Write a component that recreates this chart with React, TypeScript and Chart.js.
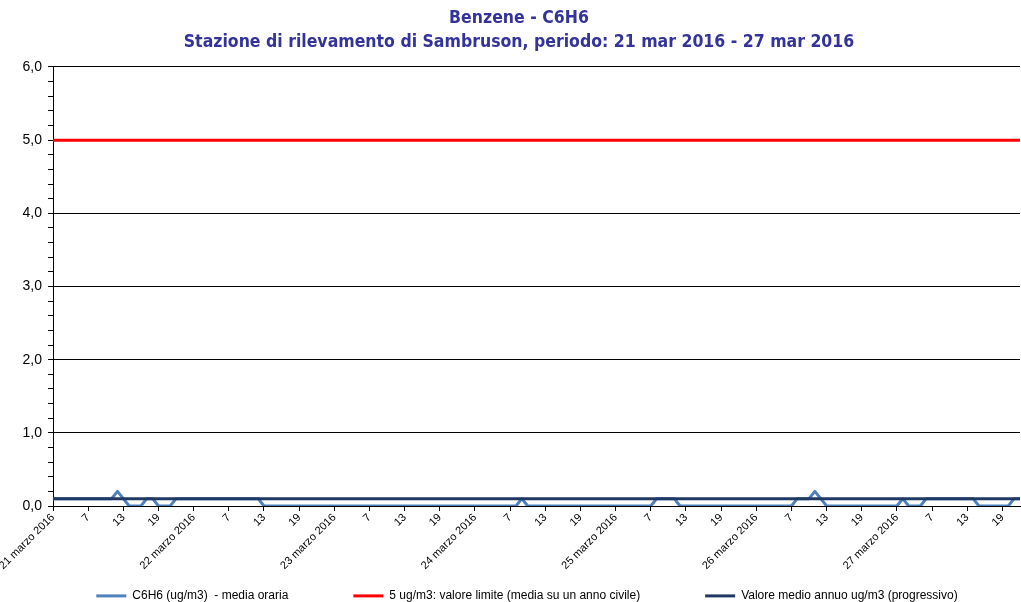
import React, { useEffect, useRef } from "react";
import { Chart, registerables } from "chart.js";

Chart.register(...registerables);

// Days and hours of the period
const days = [21, 22, 23, 24, 25, 26, 27];
const hoursPerDay = [24, 24, 24, 24, 24, 24, 22];
const labeledHours = [1, 7, 13, 19];

// C6H6 hourly means (ug/m3), one array per day
const day21 = [0.1, 0.1, 0.1, 0.1, 0.1, 0.1, 0.1, 0.1, 0.1, 0.1, 0.1, 0.2, 0.1, 0, 0, 0, 0.1, 0.1, 0, 0, 0, 0.1, 0.1, 0.1];
const day22 = [0.1, 0.1, 0.1, 0.1, 0.1, 0.1, 0.1, 0.1, 0.1, 0.1, 0.1, 0.1, 0, 0, 0, 0, 0, 0, 0, 0, 0, 0, 0, 0];
const day23 = [0, 0, 0, 0, 0, 0, 0, 0, 0, 0, 0, 0, 0, 0, 0, 0, 0, 0, 0, 0, 0, 0, 0, 0];
const day24 = [0, 0, 0, 0, 0, 0, 0, 0, 0.1, 0, 0, 0, 0, 0, 0, 0, 0, 0, 0, 0, 0, 0, 0, 0];
const day25 = [0, 0, 0, 0, 0, 0, 0, 0.1, 0.1, 0.1, 0.1, 0, 0, 0, 0, 0, 0, 0, 0, 0, 0, 0, 0, 0];
const day26 = [0, 0, 0, 0, 0, 0, 0, 0.1, 0.1, 0.1, 0.2, 0.1, 0, 0, 0, 0, 0, 0, 0, 0, 0, 0, 0, 0];
const day27 = [0, 0.1, 0, 0, 0, 0.1, 0.1, 0.1, 0.1, 0.1, 0.1, 0.1, 0.1, 0.1, 0, 0, 0, 0, 0, 0, 0.1, 0.1];

const limitValue = 5;
const annualMean = 0.1;

const seriesNames = [
  "C6H6 (ug/m3)  - media oraria",
  "5 ug/m3: valore limite (media su un anno civile)",
  "Valore medio annuo ug/m3 (progressivo)",
];
const seriesColors = ["#4F81BD", "#FF0000", "#1F3864"];

const titleLines = [
  "Benzene - C6H6",
  "Stazione di rilevamento di Sambruson, periodo: 21 mar 2016 - 27 mar 2016",
];

const LEGEND_PADDING = 65;

export default function App() {
  const ref = useRef<HTMLCanvasElement | null>(null);

  useEffect(() => {
    document.body.style.margin = "0";
    const labels: string[] = [];
    const shown: boolean[] = [];
    days.forEach((d, di) => {
      for (let h = 1; h <= hoursPerDay[di]; h++) {
        labels.push(h === 1 ? `${d} marzo 2016` : String(h));
        shown.push(labeledHours.includes(h));
      }
    });
    const c6h6 = [...day21, ...day22, ...day23, ...day24, ...day25, ...day26, ...day27];
    const limit = labels.map(() => limitValue);
    const mean = labels.map(() => annualMean);

    const placeBoxes = {
      id: "placeBoxes",
      beforeLayout(chart: any) {
        const lg = chart.legend;
        if (lg && !lg.__patched) {
          const orig = lg.fit.bind(lg);
          lg.fit = function () {
            orig();
            this.height = 20;
          };
          lg.__patched = true;
        }
      },
      afterLayout(chart: any) {
        const lg = chart.legend;
        if (lg) {
          lg.left += 17;
          lg.right += 17;
          lg.top = 596.5 - 6.6 - LEGEND_PADDING;
          lg.bottom = chart.height;
          lg.height = lg.bottom - lg.top;
        }
        const tb = chart.titleBlock;
        if (tb) {
          tb.left += 9;
          tb.right += 9;
        }
      },
    };

    const chart = new Chart(ref.current as HTMLCanvasElement, {
      type: "line",
      data: {
        labels,
        datasets: [
          {
            label: seriesNames[0],
            data: c6h6,
            borderColor: seriesColors[0],
            backgroundColor: seriesColors[0],
            borderWidth: 3,
            pointRadius: 0,
            tension: 0,
            borderJoinStyle: "round",
            order: 1,
          },
          {
            label: seriesNames[1],
            data: limit,
            borderColor: seriesColors[1],
            backgroundColor: seriesColors[1],
            borderWidth: 3,
            pointRadius: 0,
            order: 2,
          },
          {
            label: seriesNames[2],
            data: mean,
            borderColor: seriesColors[2],
            backgroundColor: seriesColors[2],
            borderWidth: 3,
            pointRadius: 0,
            order: 0,
          },
        ],
      },
      options: {
        responsive: false,
        animation: false,
        layout: { padding: { left: 0, right: 1, top: 0, bottom: 0 } },
        plugins: {
          title: {
            display: true,
            text: titleLines,
            color: "#333399",
            font: { family: "'DejaVu Sans Condensed', 'DejaVu Sans', sans-serif", size: 17.5, weight: "bold", lineHeight: 1.37 },
            padding: { top: 6, bottom: 13 },
          },
          legend: {
            position: "bottom",
            labels: {
              boxWidth: 30,
              boxHeight: 3,
              padding: LEGEND_PADDING,
              color: "#000",
              font: { family: "'Liberation Sans', Arial, sans-serif", size: 12 },
              sort: (a: any, b: any) => a.datasetIndex - b.datasetIndex,
              generateLabels: (chart: any) =>
                chart.data.datasets.map((ds: any, i: number) => ({
                  text: ds.label,
                  fillStyle: ds.borderColor,
                  strokeStyle: ds.borderColor,
                  lineWidth: 0,
                  hidden: false,
                  datasetIndex: i,
                  fontColor: "#000",
                })),
            },
          },
          tooltip: { enabled: false },
        },
        scales: {
          x: {
            type: "category",
            offset: false,
            grid: {
              drawOnChartArea: false,
              drawTicks: true,
              tickLength: 5,
              tickColor: (ctx: any) => (shown[ctx.index] ? "#000" : "rgba(0,0,0,0)"),
            },
            border: { color: "#000", width: 1 },
            ticks: {
              autoSkip: false,
              minRotation: 45,
              maxRotation: 45,
              padding: 0,
              color: "#000",
              font: { family: "'Liberation Sans', Arial, sans-serif", size: 11 },
              callback: function (this: any, _v: any, index: number) {
                return shown[index] ? labels[index] : "";
              },
            },
            afterFit: (scale: any) => {
              scale.height = 76;
              scale.paddingLeft = 0;
              scale.paddingRight = 0;
            },
          },
          y: {
            min: 0,
            max: 6,
            grid: {
              color: (ctx: any) => {
                const v = ctx.tick ? ctx.tick.value : 0;
                return Math.abs(v - Math.round(v)) < 1e-6 ? "#000" : "rgba(0,0,0,0)";
              },
              lineWidth: 1,
              tickLength: 5,
              tickColor: "#000",
            },
            border: { color: "#000", width: 1 },
            ticks: {
              stepSize: 0.2,
              autoSkip: false,
              padding: 6,
              color: "#000",
              font: { family: "'Liberation Sans', Arial, sans-serif", size: 14 },
              callback: (v: any) => {
                const n = Number(v);
                return Math.abs(n - Math.round(n)) < 1e-6 ? n.toFixed(1).replace(".", ",") : "";
              },
            },
            afterFit: (scale: any) => {
              scale.width = 53;
            },
          },
        },
      },
      plugins: [placeBoxes],
    });
    return () => chart.destroy();
  }, []);

  return (
    <div style={{ width: 1021, height: 602 }}>
      <canvas ref={ref} width={1021} height={602} />
    </div>
  );
}
